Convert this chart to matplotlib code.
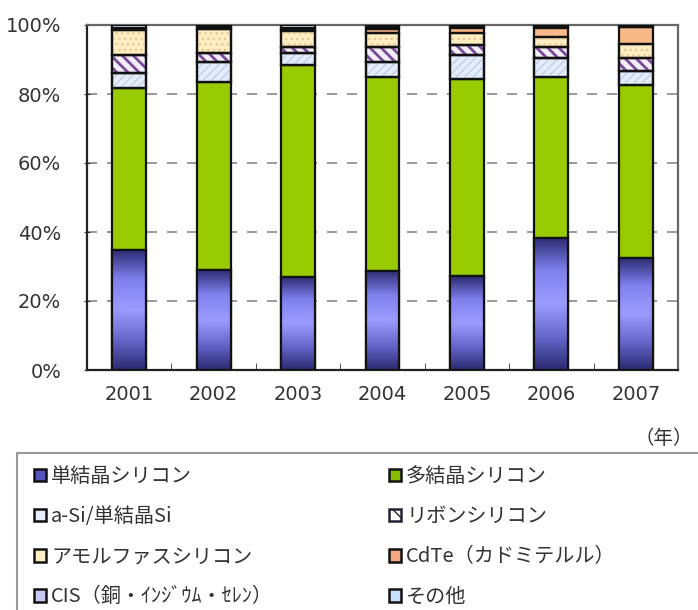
import numpy as np
import matplotlib.pyplot as plt
from matplotlib.patches import Patch, Rectangle
from matplotlib.colors import LinearSegmentedColormap

plt.rcParams['font.family'] = ['Noto Sans CJK JP', 'DejaVu Sans']

years = ['2001', '2002', '2003', '2004', '2005', '2006', '2007']
labels = ['単結晶シリコン', '多結晶シリコン', 'a-Si/単結晶Si', 'リボンシリコン',
          'アモルファスシリコン', 'CdTe（カドミテルル）', 'CIS（銅・ｲﾝｼﾞｳﾑ・ｾﾚﾝ）', 'その他']

mono = [34.8, 29.0, 27.0, 28.7, 27.2, 38.3, 32.5]
multi = [46.8, 54.6, 61.4, 56.3, 57.1, 46.7, 50.1]
asi_mono = [4.4, 5.7, 3.5, 4.3, 7.0, 5.4, 4.0]
ribbon = [5.3, 2.6, 1.7, 4.3, 2.9, 3.2, 3.9]
amorphous = [7.3, 6.9, 4.6, 4.2, 3.5, 2.9, 4.1]
cdte = [0.4, 0.5, 0.6, 1.1, 1.5, 2.7, 4.7]
cis = [0.2, 0.2, 0.4, 0.4, 0.3, 0.3, 0.2]
other = [0.8, 0.5, 0.8, 0.7, 0.5, 0.5, 0.5]

series = [mono, multi, asi_mono, ribbon, amorphous, cdte, cis, other]
faces = ['#8888ee', '#99cc00', '#e4ecfa', '#f4eefa', '#ffeec4', '#f8b888', '#d0d0ff', '#d4e8ff']
hatches = [None, None, '////', '\\\\\\', '...', None, None, None]
hatch_cols = [None, None, '#a8bce8', '#7a4a98', '#e8c890', None, None, None]
hatch_lw = [1, 1, 0.6, 2.0, 1.0, 1, 1, 1]
marker_faces = ['#5555bb', '#88bb00', '#e8eefa', '#ffffff', '#ffeec4', '#f4a880', '#c8c8f4', '#c8e0ff']

fig = plt.figure(figsize=(6.98, 6.10), dpi=100)
ax = fig.add_axes([87/698, 1-370/610, (678-87)/698, (370-25)/610])

x = np.arange(len(years))
w = 0.4
bottom = np.zeros(len(years))
blue_cmap = LinearSegmentedColormap.from_list('b', ['#2a2a70', '#6666cc', '#9c9cff', '#8080ee', '#2a2a70'])

for i, vals in enumerate(series):
    vals = np.array(vals)
    bars = ax.bar(x, vals, w, bottom=bottom, color=faces[i], edgecolor='#111111',
                  linewidth=1.6, zorder=3)
    if hatches[i]:
        plt.rcParams['hatch.linewidth'] = hatch_lw[i]
        ax.bar(x, vals, w, bottom=bottom, color='none', edgecolor=hatch_cols[i],
               linewidth=0, hatch=hatches[i], zorder=3.5)
        ax.bar(x, vals, w, bottom=bottom, color='none', edgecolor='#111111',
               linewidth=1.6, zorder=3.6)
    if i == 0:
        grad = np.linspace(0, 1, 256).reshape(-1, 1)
        for b in bars:
            im = ax.imshow(grad, cmap=blue_cmap, aspect='auto', zorder=3.2,
                           extent=[b.get_x(), b.get_x() + b.get_width(), b.get_y(), b.get_y() + b.get_height()],
                           origin='lower')
            im.set_clip_path(b)
        ax.bar(x, vals, w, bottom=bottom, color='none', edgecolor='#111111',
               linewidth=1.6, zorder=3.6)
    bottom += vals

ax.set_xlim(-0.5, 6.5)
ax.set_ylim(0, 100)
ax.set_yticks([0, 20, 40, 60, 80, 100])
ax.set_yticklabels(['0%', '20%', '40%', '60%', '80%', '100%'])
ax.set_xticks(x)
ax.set_xticklabels(years)
ax.set_xticks(np.arange(0.5, 6.5, 1), minor=True)
ax.tick_params(axis='x', which='major', length=0, pad=11)
ax.tick_params(axis='x', which='minor', length=5, direction='in', color='#333333')
ax.tick_params(axis='y', length=5, direction='inout', pad=16, color='#333333')
for lab in ax.get_xticklabels() + ax.get_yticklabels():
    lab.set_family('DejaVu Sans')
    lab.set_fontsize(14)
    lab.set_color('#333333')
for yv in [20, 40, 60, 80]:
    ax.axhline(yv, color='#888888', linestyle=(0, (6, 6)), linewidth=1.2, zorder=1)
for s in ax.spines.values():
    s.set_linewidth(1.6)
    s.set_color('#222222')
ax.spines['top'].set_color('#666666')
ax.spines['right'].set_color('#666666')

fig.text(664/698, 1-438/610, '（年）', fontsize=14, color='#333333', ha='center', va='center')

# legend frame (runs off the right and bottom edges like the reference)
fig.patches.append(Rectangle((17/698, -0.1), 1.0, 0.1 + 1-453/610, transform=fig.transFigure,
                             fill=True, facecolor='white', edgecolor='#999999', linewidth=1.5))

handles = [Patch(facecolor=marker_faces[i], edgecolor='#111111', linewidth=1.8) for i in range(8)]
handles[3] = Patch(facecolor='#ffffff', edgecolor='#222233', linewidth=1.8, hatch='\\\\')
for col, (xpos, idx) in enumerate([(30/698, [0, 2, 4, 6]), (385/698, [1, 3, 5, 7])]):
    leg = fig.legend([handles[k] for k in idx], [labels[k] for k in idx], ncol=1,
                     loc='upper left', bbox_to_anchor=(xpos, 1-462/610),
                     fontsize=14.5, frameon=False, handlelength=0.6, handleheight=0.6,
                     handletextpad=0.25, labelspacing=0.95, borderpad=0.2, borderaxespad=0)
    for t in leg.get_texts():
        t.set_color('#333333')

fig.savefig('out.png', dpi=100)
